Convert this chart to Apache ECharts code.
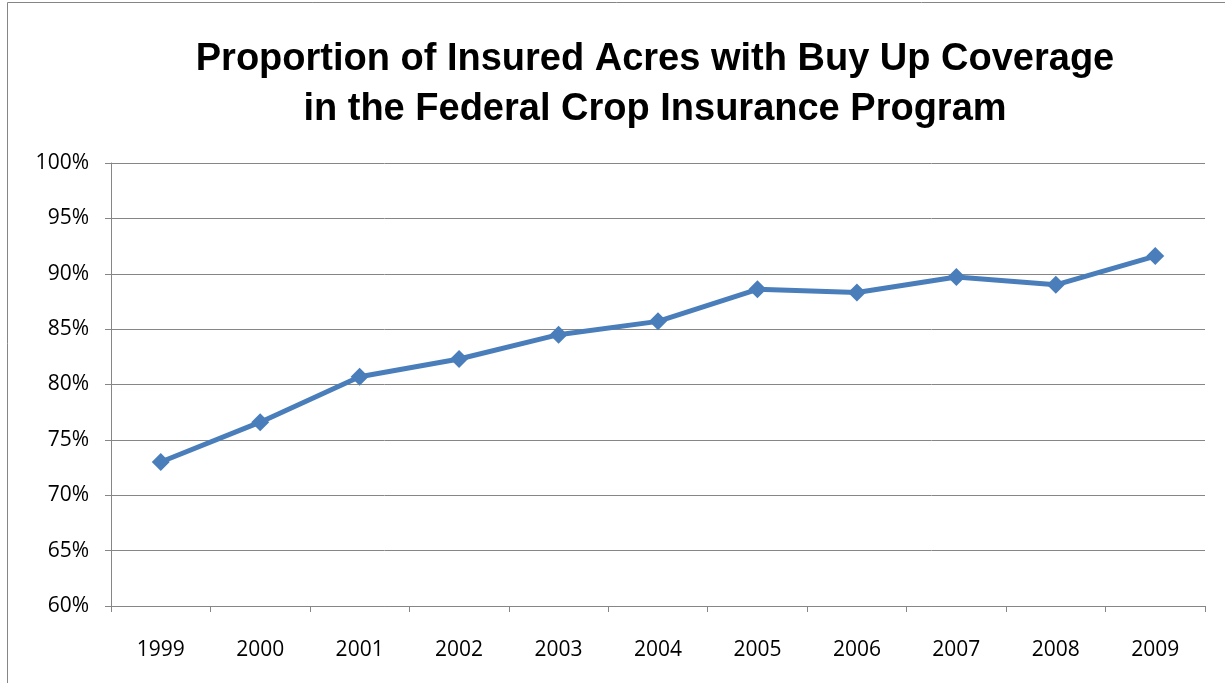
<!DOCTYPE html>
<html>
<head>
<meta charset="utf-8">
<script src="https://cdn.jsdelivr.net/npm/echarts@6/dist/echarts.min.js"></script>
<style>
  html, body { margin: 0; padding: 0; background: #fff; }
  #chart { width: 1225px; height: 683px; }
</style>
</head>
<body>
<div id="chart"></div>
<script>
// data
const years = ['1999', '2000', '2001', '2002', '2003', '2004', '2005', '2006', '2007', '2008', '2009'];
const buyUpShare = [73.0, 76.6, 80.7, 82.3, 84.5, 85.7, 88.6, 88.3, 89.7, 89.0, 91.6];
const titleLines = ['Proportion of Insured Acres with Buy Up Coverage', 'in the Federal Crop Insurance Program'];

const chart = echarts.init(document.getElementById('chart'));
const axisGray = '#868686';

chart.setOption({
    animation: false,
    backgroundColor: '#fff',
    title: {
        text: titleLines.join('\n'),
        left: 650,
        top: 30,
        textAlign: 'center',
        textStyle: {
            fontFamily: 'Liberation Sans, Arial, sans-serif',
            fontWeight: 'bold',
            fontSize: 38,
            lineHeight: 50,
            color: '#000'
        }
    },
    graphic: [{
        // chart frame (cut off at right/bottom)
        type: 'rect',
        shape: { x: 7.5, y: 2.5, width: 1240, height: 700 },
        style: { fill: 'none', stroke: '#868686', lineWidth: 1 },
        silent: true
    }],
    grid: { left: 111, right: 20, top: 163, bottom: 77 },
    xAxis: {
        type: 'category',
        data: years,
        boundaryGap: true,
        axisLine: { lineStyle: { color: axisGray, width: 1 } },
        axisTick: { show: true, length: 6, inside: false, lineStyle: { color: axisGray } },
        axisLabel: {
            margin: 34,
            fontFamily: 'Open Sans, sans-serif',
            fontSize: 21,
            color: '#000'
        }
    },
    yAxis: {
        type: 'value',
        min: 60,
        max: 100,
        interval: 5,
        axisLine: { show: true, lineStyle: { color: axisGray, width: 1 } },
        axisTick: { show: true, length: 6, lineStyle: { color: axisGray } },
        splitLine: { show: true, lineStyle: { color: axisGray, width: 1 } },
        axisLabel: {
            margin: 22,
            formatter: '{value}%',
            fontFamily: 'Open Sans, sans-serif',
            fontSize: 21,
            color: '#000'
        }
    },
    series: [{
        type: 'line',
        data: buyUpShare,
        symbol: 'diamond',
        symbolSize: 18,
        showAllSymbol: true,
        lineStyle: { color: '#4a7ebb', width: 5 },
        itemStyle: { color: '#4a7ebb' }
    }]
});
</script>
</body>
</html>
